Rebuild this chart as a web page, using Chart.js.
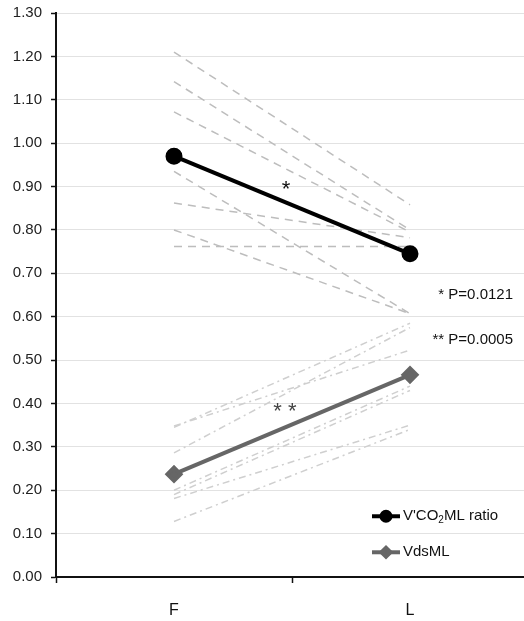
<!DOCTYPE html>
<html>
<head>
<meta charset="utf-8">
<script src="https://cdn.jsdelivr.net/npm/chart.js@4/dist/chart.umd.min.js"></script>
<style>
html,body{margin:0;padding:0;background:#fff;overflow:hidden;}
#wrap{position:relative;width:530px;height:621px;}
</style>
</head>
<body>
<div id="wrap"><canvas id="c" width="530" height="621"></canvas></div>
<script>
// ---- data ----
const categories = ['F', 'L'];
const yTickValues = [0.00,0.10,0.20,0.30,0.40,0.50,0.60,0.70,0.80,0.90,1.00,1.10,1.20,1.30];
const vco2MeanLabel = "V'CO\u2082ML ratio";
const vdsMeanLabel = 'VdsML';
const vco2Mean = [0.97, 0.745];
const vdsMean = [0.237, 0.466];
// individual subjects (value at F, value at L)
const vco2IndivF = [1.210, 1.142, 1.072, 0.935, 0.862, 0.800, 0.762];
const vco2IndivL = [0.858, 0.800, 0.795, 0.607, 0.782, 0.607, 0.762];
const vdsIndivF  = [0.348, 0.286, 0.345, 0.200, 0.190, 0.181, 0.128];
const vdsIndivL  = [0.523, 0.575, 0.585, 0.440, 0.430, 0.350, 0.340];
const pTexts = ['* P=0.0121', '** P=0.0005'];

const datasets = [
  {label: vco2MeanLabel, data: vco2Mean, borderColor:'#000', backgroundColor:'#000',
   borderWidth:4, pointRadius:6.5, pointHoverRadius:6.5, pointStyle:'circle', order:0},
  {label: vdsMeanLabel, data: vdsMean, borderColor:'#666', backgroundColor:'#666',
   borderWidth:4, pointRadius:6.5, pointHoverRadius:6.5, pointStyle:'rectRot', order:1}
];
vco2IndivF.forEach((f,i)=>{
  datasets.push({label:'v'+i, data:[f, vco2IndivL[i]], borderColor:'#bdbdbd', borderWidth:1.5,
    borderDash:[8,6], pointRadius:0, order:2});
});
vdsIndivF.forEach((f,i)=>{
  datasets.push({label:'d'+i, data:[f, vdsIndivL[i]], borderColor:'#cfcfcf', borderWidth:1.5,
    borderDash:[7,4,2,4], pointRadius:0, order:3});
});

const FONT = '"Liberation Sans", Arial, Helvetica, sans-serif';

const annot = {
  id:'annot',
  afterDatasetsDraw(chart){
    const {ctx, scales:{x,y}, chartArea} = chart;
    ctx.save();
    // significance stars
    ctx.textAlign='center'; ctx.textBaseline='middle';
    ctx.font = '22px '+FONT;
    ctx.fillStyle='#111';
    ctx.fillText('*', x.getPixelForValue(0.475), y.getPixelForValue(0.892));
    ctx.fillStyle='#444';
    ctx.fillText('* *', x.getPixelForValue(0.47), y.getPixelForValue(0.38));
    // p-values
    ctx.font = '15px '+FONT;
    ctx.fillStyle='#111';
    ctx.textAlign='right';
    ctx.fillText(pTexts[0], chartArea.right-15, y.getPixelForValue(0.650));
    ctx.fillText(pTexts[1], chartArea.right-15, y.getPixelForValue(0.546));
    // legend
    const lx0 = 372, lx1 = 400, tx = 403;
    const items = [
      {y: y.getPixelForValue(0.14), color:'#000', style:'circle'},
      {y: y.getPixelForValue(0.057), color:'#666', style:'rectRot'}
    ];
    items.forEach((it,i)=>{
      ctx.strokeStyle=it.color; ctx.fillStyle=it.color; ctx.lineWidth=4;
      ctx.beginPath(); ctx.moveTo(lx0,it.y); ctx.lineTo(lx1,it.y); ctx.stroke();
      Chart.helpers.drawPoint(ctx,{pointStyle:it.style, radius:4.5, borderWidth:1}, (lx0+lx1)/2, it.y);
    });
    ctx.fillStyle='#111'; ctx.textAlign='left'; ctx.textBaseline='middle';
    ctx.font='15px '+FONT;
    let xx = tx, yy = items[0].y;
    ctx.fillText("V'CO", xx, yy); xx += ctx.measureText("V'CO").width;
    ctx.font='10px '+FONT;
    ctx.fillText('2', xx, yy+4); xx += ctx.measureText('2').width;
    ctx.font='15px '+FONT;
    ctx.fillText('ML ratio', xx, yy);
    ctx.fillText(vdsMeanLabel, tx, items[1].y);
    ctx.restore();
  }
};

new Chart(document.getElementById('c'), {
  type:'line',
  data:{labels:categories, datasets},
  options:{
    responsive:false, animation:false,
    layout:{autoPadding:false, padding:{top:13,right:2,bottom:0,left:0}},
    plugins:{legend:{display:false}, tooltip:{enabled:false}},
    elements:{line:{tension:0}},
    scales:{
      x:{
        offset:true,
        grid:{offset:true, drawOnChartArea:false, drawTicks:true, tickLength:6, tickColor:'#111', tickWidth:1.5},
        border:{display:true, color:'#111', width:2},
        ticks:{padding:18, color:'#111', font:{family:FONT, size:16}},
        afterFit(s){ s.height = 44; s.paddingLeft = 0; s.paddingRight = 0; }
      },
      y:{
        min:0, max:1.3,
        afterBuildTicks(s){ s.ticks = yTickValues.map(v=>({value:v})); },
        grid:{color:'#e2e2e2', lineWidth:1, tickLength:5, tickColor:'#111', tickWidth:1.5},
        border:{display:true, color:'#111', width:2},
        ticks:{padding:9, color:'#222', font:{family:FONT, size:15}, callback:(v)=>Number(v).toFixed(2)},
        afterFit(s){ s.width = 56; s.paddingTop = 0; s.paddingBottom = 0; }
      }
    }
  },
  plugins:[annot]
});
</script>
</body>
</html>
